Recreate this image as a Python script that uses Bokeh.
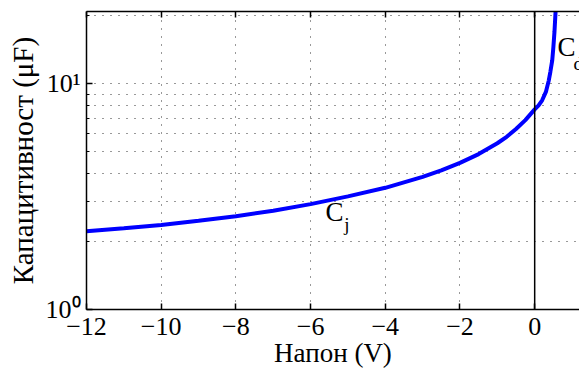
from bokeh.plotting import figure
from bokeh.models import (Range1d, LinearAxis, FixedTicker, Span,
                          CustomJSTickFormatter, Label)
from bokeh.embed import file_html
from bokeh.resources import INLINE

# data
voltage = [-12, -11, -10, -9, -8, -7, -6, -5, -4, -3, -2.5, -2, -1.5, -1, -0.75,
           -0.5, -0.25, 0, 0.1, 0.2, 0.3, 0.375, 0.42, 0.47, 0.5, 0.53, 0.56, 0.6]
capacitance = [2.22, 2.29, 2.37, 2.47, 2.59, 2.74, 2.93, 3.17, 3.46, 3.87, 4.13,
               4.46, 4.88, 5.45, 5.82, 6.3, 6.9, 7.7, 8.0, 8.45, 9.2, 10.3, 11.3,
               12.7, 14.5, 17.0, 21.0, 28.0]
x_ticks = [-12, -10, -8, -6, -4, -2, 0, 2]
y_major = [1, 10]
y_minor = [2, 3, 4, 5, 6, 7, 8, 9, 20]
x_label = "Напон (V)"
y_label = "Капацитивност (μF)"

FONT = "Liberation Serif"

p = figure(width=579, height=372, output_backend="svg", toolbar_location=None,
           y_axis_type="log",
           x_range=Range1d(-12, 1.2), y_range=Range1d(1, 20.9),
           min_border_left=86, min_border_right=0, min_border_top=11,
           min_border_bottom=63)
p.outline_line_color = None
p.background_fill_color = "white"
p.border_fill_color = "white"

xt = FixedTicker(ticks=x_ticks)
yt = FixedTicker(ticks=y_major, minor_ticks=y_minor)
p.xaxis.ticker = xt
p.yaxis.ticker = yt
p.yaxis.formatter = CustomJSTickFormatter(code="""
const e = Math.round(Math.log10(tick));
const sup = {"0":"\u2070","1":"\u00b9","2":"\u00b2","3":"\u00b3","-":"\u207b"};
return "10" + String(e).split("").map(c => sup[c]).join("");
""")

for ax in (p.xaxis[0], p.yaxis[0]):
    ax.axis_line_width = 1.5
    ax.axis_line_color = "black"
    ax.major_tick_in = 6
    ax.major_tick_out = 0
    ax.minor_tick_in = 3
    ax.minor_tick_out = 0
    ax.major_tick_line_width = 1.5
    ax.major_tick_line_color = "black"
    ax.minor_tick_line_color = "black"
    ax.major_label_text_font = FONT
    ax.major_label_text_font_size = "26px"
    ax.major_label_text_color = "black"
    ax.axis_label_text_font = FONT
    ax.axis_label_text_font_style = "normal"
    ax.axis_label_text_color = "black"

p.xaxis.axis_label_text_font_size = "27px"
p.yaxis.axis_label_text_font_size = "29px"
p.xaxis.minor_tick_line_color = None
p.xaxis.axis_label = x_label
p.yaxis.axis_label = y_label
p.xaxis.major_label_standoff = 8
p.xaxis.axis_label_standoff = 0
p.yaxis.major_label_standoff = 6
p.yaxis.axis_label_standoff = 4

top = LinearAxis(ticker=xt, major_label_text_font_size="0px",
                 major_tick_in=6, major_tick_out=0, minor_tick_line_color=None,
                 axis_line_width=1.5, major_tick_line_width=1.5,
                 major_label_standoff=0)
p.add_layout(top, "above")

# grids
p.xgrid.ticker = xt
p.xgrid.grid_line_color = "#333333"
p.xgrid.grid_line_dash = "1 7"
p.xgrid.grid_line_width = 1
p.ygrid.ticker = yt
p.ygrid.grid_line_color = "#333333"
p.ygrid.grid_line_dash = "1 7"
p.ygrid.grid_line_width = 1
p.ygrid.minor_grid_line_color = "#333333"
p.ygrid.minor_grid_line_dash = "1 7"
p.ygrid.minor_grid_line_width = 1

p.add_layout(Span(location=0, dimension="height", line_color="black", line_width=1.5))

p.line(voltage, capacitance, line_color="#0000ff", line_width=4)

# curve labels
p.add_layout(Label(x=-5.6, y=2.69, text="C", text_font=FONT, text_font_size="27px",
                   text_color="black", text_baseline="alphabetic"))
p.add_layout(Label(x=-5.1, y=2.38, text="j", text_font=FONT, text_font_size="19px",
                   text_color="black", text_baseline="alphabetic"))
p.add_layout(Label(x=0.61, y=14.6, text="C", text_font=FONT, text_font_size="27px",
                   text_color="black", text_baseline="alphabetic"))
p.add_layout(Label(x=1.04, y=12.3, text="d", text_font=FONT, text_font_size="19px",
                   text_color="black", text_baseline="alphabetic"))

open("out.html", "w").write(file_html(p, INLINE))
